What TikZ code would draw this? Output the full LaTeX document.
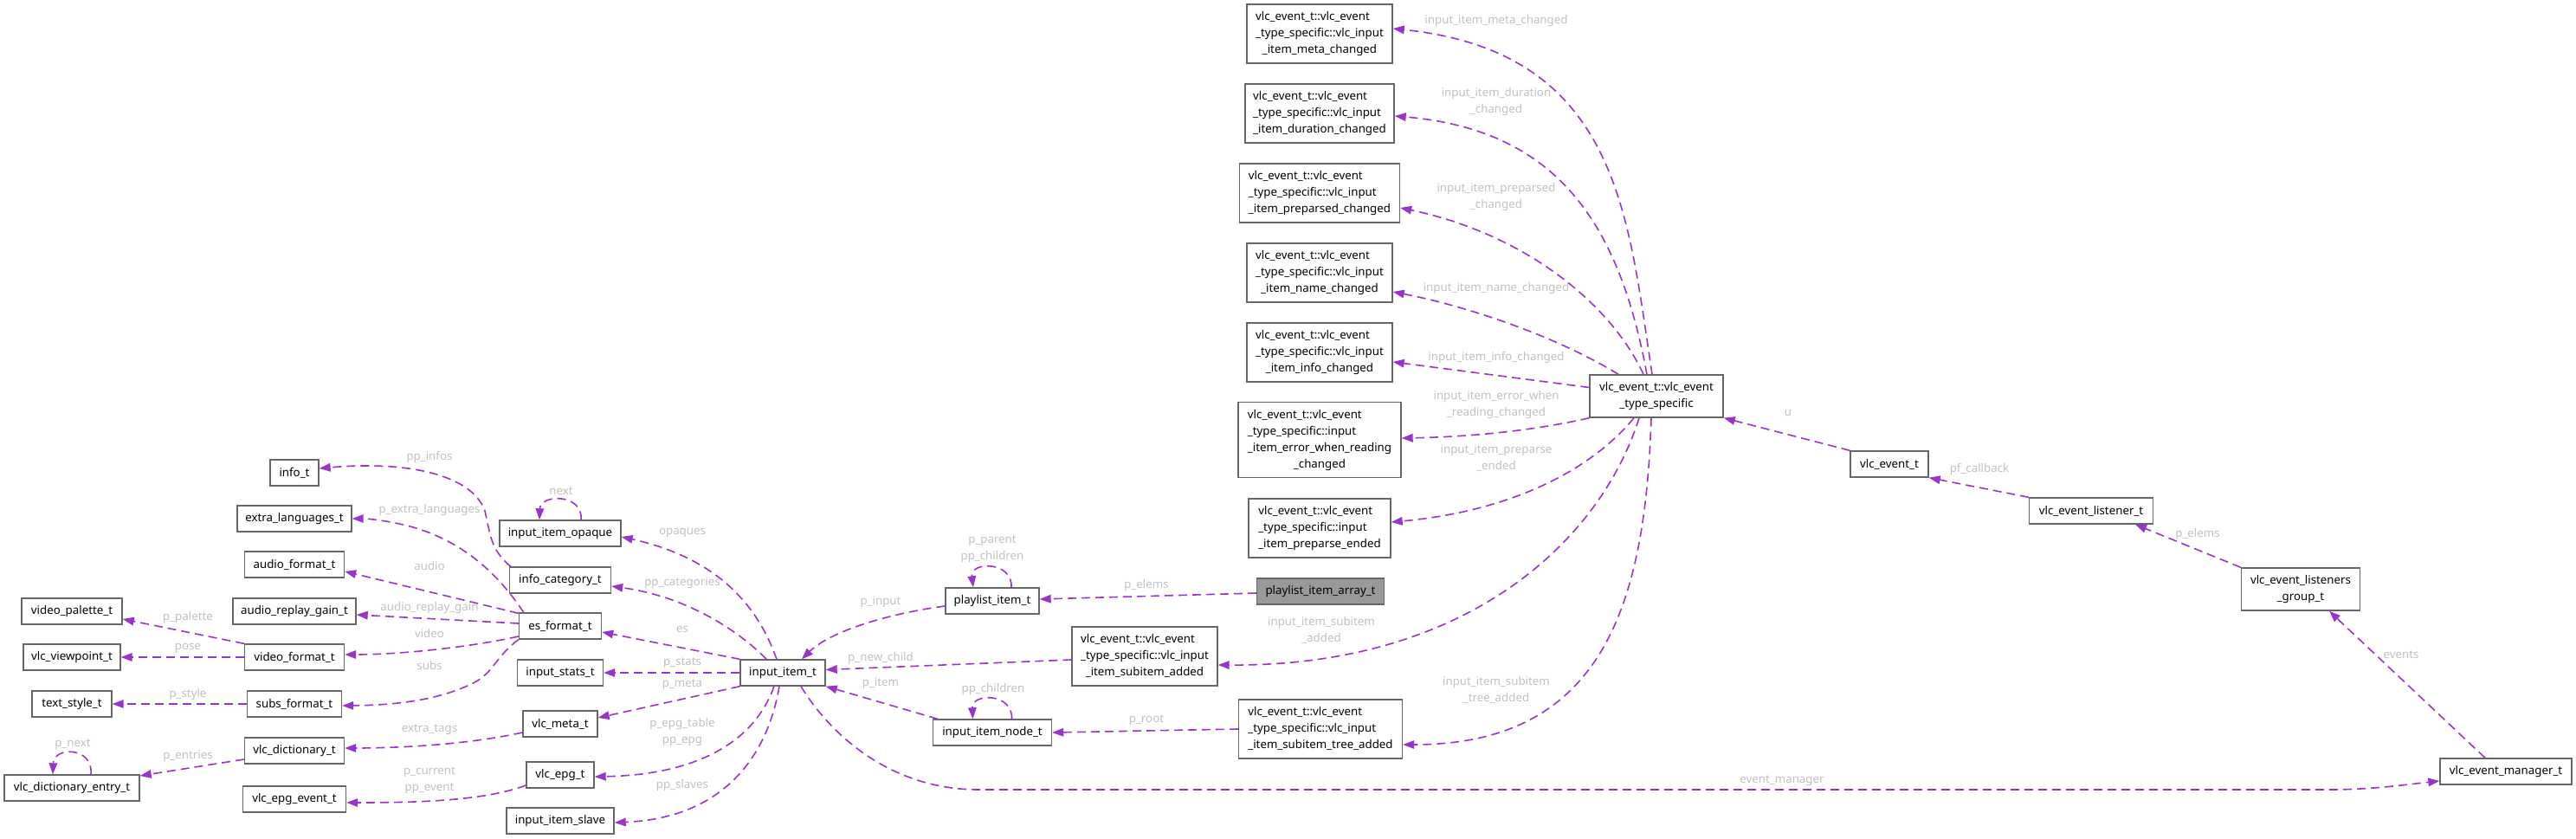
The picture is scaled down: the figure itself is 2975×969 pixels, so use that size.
\documentclass[tikz,border=0pt]{standalone}
\usepackage{fontspec}
\setmainfont{Noto Sans}
\usetikzlibrary{arrows.meta}
\definecolor{cBorder}{HTML}{666666}
\definecolor{cHl}{HTML}{999999}
\definecolor{cEdge}{HTML}{9A32CD}
\definecolor{cLbl}{HTML}{C0C0C0}
\newcommand\lt[2]{\begin{tabular}{@{}l@{}}#1\\\multicolumn{1}{@{}c@{}}{#2}\end{tabular}}
\tikzset{
  box/.style={draw=cBorder, line width=1.4pt, fill=white, minimum height=30pt, inner sep=0pt, text=black, font=\fontsize{13.3}{19}\selectfont},
  hl/.style={box, fill=cHl},
  edge/.style={draw=cEdge, line width=1.6pt, dash pattern=on 10pt off 6pt, -{Triangle[length=13pt,width=9.5pt]}},
  lbl/.style={text=cLbl, align=center, inner sep=0pt, font=\fontsize{13.3}{19}\selectfont}
}
\begin{document}
\begin{tikzpicture}[x=1pt,y=-1pt]
\useasboundingbox (0,0) rectangle (2975,969);
% ---------------- nodes
\node[box, minimum width=56pt] (info_t) at (340,546) {info\_t};
\node[box, minimum width=132pt] (extra_languages_t) at (340,599) {extra\_languages\_t};
\node[box, minimum width=115pt] (audio_format_t) at (340,652) {audio\_format\_t};
\node[box, minimum width=142pt] (audio_replay_gain_t) at (340,706) {audio\_replay\_gain\_t};
\node[box, minimum width=116pt] (video_palette_t) at (83,706) {video\_palette\_t};
\node[box, minimum width=115pt] (video_format_t) at (340,759) {video\_format\_t};
\node[box, minimum width=112pt] (vlc_viewpoint_t) at (83,759) {vlc\_viewpoint\_t};
\node[box, minimum width=92pt] (text_style_t) at (83,813) {text\_style\_t};
\node[box, minimum width=109pt] (subs_format_t) at (340,813) {subs\_format\_t};
\node[box, minimum width=115pt] (vlc_dictionary_t) at (340,867) {vlc\_dictionary\_t};
\node[box, minimum width=156pt] (vlc_dictionary_entry_t) at (83,910) {vlc\_dictionary\_entry\_t};
\node[box, minimum width=119pt] (vlc_epg_event_t) at (340,923) {vlc\_epg\_event\_t};
\node[box, minimum width=140pt] (input_item_opaque) at (647,616) {input\_item\_opaque};
\node[box, minimum width=117pt] (info_category_t) at (647,670) {info\_category\_t};
\node[box, minimum width=95pt] (es_format_t) at (647,723) {es\_format\_t};
\node[box, minimum width=99pt] (input_stats_t) at (647,777) {input\_stats\_t};
\node[box, minimum width=86pt] (vlc_meta_t) at (647,836) {vlc\_meta\_t};
\node[box, minimum width=78pt] (vlc_epg_t) at (647,895) {vlc\_epg\_t};
\node[box, minimum width=124pt] (input_item_slave) at (647,948) {input\_item\_slave};
\node[box, minimum width=98pt] (input_item_t) at (904,777) {input\_item\_t};
\node[box, minimum width=108pt] (playlist_item_t) at (1146,694) {playlist\_item\_t};
\node[box, minimum width=137pt] (input_item_node_t) at (1146,846) {input\_item\_node\_t};
\node[hl, minimum width=147pt] (playlist_item_array_t) at (1525,683) {playlist\_item\_array\_t};
\node[box, minimum width=168pt, minimum height=68pt] (sa) at (1322,758) {\lt{vlc\_event\_t::vlc\_event\\\_type\_specific::vlc\_input}{\_item\_subitem\_added}};
\node[box, minimum width=189pt, minimum height=68pt] (sta) at (1525,842) {\lt{vlc\_event\_t::vlc\_event\\\_type\_specific::vlc\_input}{\_item\_subitem\_tree\_added}};
\node[box, minimum width=168pt, minimum height=68pt] (mc) at (1524,39) {\lt{vlc\_event\_t::vlc\_event\\\_type\_specific::vlc\_input}{\_item\_meta\_changed}};
\node[box, minimum width=172pt, minimum height=68pt] (dc) at (1524,131) {\lt{vlc\_event\_t::vlc\_event\\\_type\_specific::vlc\_input}{\_item\_duration\_changed}};
\node[box, minimum width=185pt, minimum height=68pt] (pc) at (1524,223) {\lt{vlc\_event\_t::vlc\_event\\\_type\_specific::vlc\_input}{\_item\_preparsed\_changed}};
\node[box, minimum width=168pt, minimum height=68pt] (nc) at (1524,315) {\lt{vlc\_event\_t::vlc\_event\\\_type\_specific::vlc\_input}{\_item\_name\_changed}};
\node[box, minimum width=168pt, minimum height=68pt] (ic) at (1524,407) {\lt{vlc\_event\_t::vlc\_event\\\_type\_specific::vlc\_input}{\_item\_info\_changed}};
\node[box, minimum width=188pt, minimum height=87pt] (ewr) at (1524,508) {\lt{vlc\_event\_t::vlc\_event\\\_type\_specific::input\\\_item\_error\_when\_reading}{\_changed}};
\node[box, minimum width=164pt, minimum height=68pt] (pe) at (1524,610) {\lt{vlc\_event\_t::vlc\_event\\\_type\_specific::input}{\_item\_preparse\_ended}};
\node[box, minimum width=154pt, minimum height=49pt] (ts) at (1913,457.5) {\lt{vlc\_event\_t::vlc\_event}{\_type\_specific}};
\node[box, minimum width=90pt] (ev) at (2182,536) {vlc\_event\_t};
\node[box, minimum width=143pt] (evl) at (2415,590) {vlc\_event\_listener\_t};
\node[box, minimum width=137pt, minimum height=49pt] (evg) at (2657,680.5) {\lt{vlc\_event\_listeners}{\_group\_t}};
\node[box, minimum width=152pt] (evm) at (2894,891) {vlc\_event\_manager\_t};
% ---------------- edges
\draw[edge] ([xshift=2pt]info_category_t.north west) .. controls (566,635) and (566,615) .. (560,590) .. controls (545,548) and (470,532) .. ([yshift=5pt]info_t.east);
\draw[edge] ([xshift=6pt]es_format_t.north west) .. controls (580,670) and (540,625) .. (470,607) .. controls (445,601) and (425,599) .. (extra_languages_t.east);
\draw[edge] ([yshift=-1pt]es_format_t.north west) -- ([yshift=-8pt]audio_format_t.east);
\draw[edge] ([yshift=3pt]es_format_t.west) -- ([yshift=-4pt]audio_replay_gain_t.east);
\draw[edge] ([yshift=-12pt]es_format_t.west) .. controls (540,748) and (460,756) .. ([yshift=3pt]video_format_t.east);
\draw[edge] (es_format_t.south west) .. controls (570,760) and (570,780) .. (540,792) .. controls (500,810) and (450,814.5) .. ([yshift=-2pt]subs_format_t.east);
\draw[edge] (video_format_t.north west) -- ([yshift=-9pt]video_palette_t.east);
\draw[edge] (video_format_t.west) -- (vlc_viewpoint_t.east);
\draw[edge] (subs_format_t.west) -- (text_style_t.east);
\draw[edge] ([yshift=-10pt]vlc_meta_t.west) .. controls (540,860) and (460,864) .. ([yshift=3pt]vlc_dictionary_t.east);
\draw[edge] ([yshift=-10pt]vlc_dictionary_t.west) -- ([yshift=14pt]vlc_dictionary_entry_t.east);
\draw[edge] ([xshift=22pt]vlc_dictionary_entry_t.north) .. controls (108,862) and (62,862) .. ([xshift=-22pt]vlc_dictionary_entry_t.north);
\draw[edge] ([yshift=-12pt]vlc_epg_t.west) .. controls (560,925) and (480,927) .. ([yshift=-4pt]vlc_epg_event_t.east);
\draw[edge] ([xshift=24pt]input_item_opaque.north) .. controls (674,570) and (624,570) .. ([xshift=-24pt]input_item_opaque.north);
\draw[edge] ([xshift=-7pt]input_item_t.north) .. controls (875,700) and (830,645) .. ([yshift=-4pt]input_item_opaque.east);
\draw[edge] ([xshift=-19pt]input_item_t.north) .. controls (860,735) and (800,690) .. ([yshift=-7pt]info_category_t.east);
\draw[edge] (input_item_t.north west) -- ([yshift=-7pt]es_format_t.east);
\draw[edge] (input_item_t.west) -- (input_stats_t.east);
\draw[edge] (input_item_t.south west) -- ([yshift=7pt]vlc_meta_t.east);
\draw[edge] ([xshift=-10pt]input_item_t.south) .. controls (870,860) and (800,895) .. ([yshift=-2pt]vlc_epg_t.east);
\draw[edge] ([xshift=-4pt]input_item_t.south) .. controls (885,880) and (830,945) .. ([yshift=-2pt]input_item_slave.east);
\draw[edge] ([yshift=-6pt]playlist_item_t.west) .. controls (1030,708) and (960,728) .. ([xshift=22pt]input_item_t.north);
\draw[edge] ([xshift=22pt]playlist_item_t.north) .. controls (1170,648) and (1120,648) .. ([xshift=-22pt]playlist_item_t.north);
\draw[edge] ([yshift=-4pt]sa.west) -- ([yshift=3.5pt]input_item_t.east);
\draw[edge] ([xshift=6pt]input_item_node_t.north west) -- (input_item_t.south east);
\draw[edge] ([xshift=22.5pt]input_item_node_t.north) .. controls (1170,800) and (1122,800) .. ([xshift=-22.5pt]input_item_node_t.north);
\draw[edge] ([xshift=21pt]input_item_t.south) .. controls (960,850) and (1030,912) .. (1130,912) -- (2690,912) .. controls (2740,912) and (2780,906) .. ([yshift=-11pt]evm.west);
\draw[edge] ([yshift=-2pt]playlist_item_array_t.west) -- ([yshift=2pt]playlist_item_t.east);
\draw[edge] (sta.west) -- (input_item_node_t.east);
\draw[edge] ([xshift=-5pt]ts.north) .. controls (1880,250) and (1870,60) .. ([yshift=6pt]mc.east);
\draw[edge] ([xshift=-11pt]ts.north) .. controls (1870,260) and (1800,150) .. ([yshift=-3pt]dc.east);
\draw[edge] ([xshift=-15pt]ts.north) .. controls (1860,350) and (1760,270) .. ([yshift=-17pt]pc.east);
\draw[edge] ([xshift=-44pt]ts.north) .. controls (1800,390) and (1700,355) .. ([yshift=-22pt]nc.east);
\draw[edge] ([yshift=10pt]ts.west) -- ([yshift=-11pt]ic.east);
\draw[edge] (ts.south west) .. controls (1760,500) and (1680,505) .. ([yshift=2pt]ewr.east);
\draw[edge] ([xshift=-26pt]ts.south) .. controls (1840,540) and (1750,590) .. ([yshift=7pt]pe.east);
\draw[edge] ([xshift=-20pt]ts.south) .. controls (1850,620) and (1700,770) .. ([yshift=-10pt]sa.east);
\draw[edge] ([xshift=-6pt]ts.south) .. controls (1900,700) and (1850,860) .. ([yshift=-18pt]sta.east);
\draw[edge] (ev.north west) -- (ts.south east);
\draw[edge] (evl.north west) -- (ev.south east);
\draw[edge] (evg.north west) -- ([xshift=51pt]evl.south);
\draw[edge] ([xshift=-24pt]evm.north) -- ([xshift=33pt]evg.south);
% ---------------- labels
\node[lbl] (l1) at (496,528) {pp\_infos};
\node[lbl] (l2) at (496,589) {p\_extra\_languages};
\node[lbl] (l3) at (496,654) {audio};
\node[lbl] (l4) at (496,702) {audio\_replay\_gain};
\node[lbl] (l5) at (496,732) {video};
\node[lbl] (l6) at (496,769) {subs};
\node[lbl] (l7) at (217,713) {p\_palette};
\node[lbl] (l8) at (217,748) {pose};
\node[lbl] (l9) at (217,802) {p\_style};
\node[lbl] (l10) at (496,843) {extra\_tags};
\node[lbl] (l11) at (217,873) {p\_entries};
\node[lbl] (l12) at (84,860) {p\_next};
\node[lbl] (l13) at (496,901.5) {p\_current\\pp\_event};
\node[lbl] (l14) at (648,567) {next};
\node[lbl] (l15) at (788,615) {opaques};
\node[lbl] (l16) at (788,673) {pp\_categories};
\node[lbl] (l17) at (788,727) {es};
\node[lbl] (l18) at (788,766) {p\_stats};
\node[lbl] (l19) at (788,791) {p\_meta};
\node[lbl] (l20) at (788,846) {p\_epg\_table\\pp\_epg};
\node[lbl] (l21) at (788,907) {pp\_slaves};
\node[lbl] (l22) at (1017,695) {p\_input};
\node[lbl] (l23) at (1146,634.5) {p\_parent\\pp\_children};
\node[lbl] (l24) at (1017,760) {p\_new\_child};
\node[lbl] (l25) at (1017,789) {p\_item};
\node[lbl] (l26) at (1147,796) {pp\_children};
\node[lbl] (l27) at (2058,902) {event\_manager};
\node[lbl] (l28) at (1324,676) {p\_elems};
\node[lbl] (l29) at (1324,832) {p\_root};
\node[lbl] (l30) at (1728,24) {input\_item\_meta\_changed};
\node[lbl] (l31) at (1728,117.5) {input\_item\_duration\\\_changed};
\node[lbl] (l32) at (1728,227.5) {input\_item\_preparsed\\\_changed};
\node[lbl] (l33) at (1728,333) {input\_item\_name\_changed};
\node[lbl] (l34) at (1728,413) {input\_item\_info\_changed};
\node[lbl] (l35) at (1728,467.5) {input\_item\_error\_when\\\_reading\_changed};
\node[lbl] (l36) at (1728,529) {input\_item\_preparse\\\_ended};
\node[lbl] (l37) at (1526,727.5) {input\_item\_subitem\\\_added};
\node[lbl] (l38) at (1728,797) {input\_item\_subitem\\\_tree\_added};
\node[lbl] (l39) at (2065,477) {u};
\node[lbl] (l40) at (2286,542) {pf\_callback};
\node[lbl] (l41) at (2538,617) {p\_elems};
\node[lbl] (l42) at (2773,756) {events};
\end{tikzpicture}
\end{document}
